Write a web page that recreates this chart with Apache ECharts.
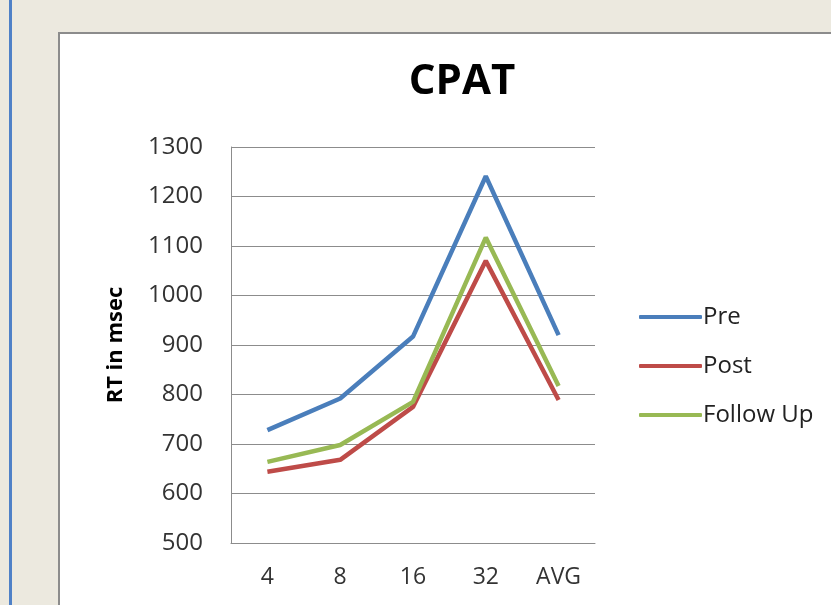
<!DOCTYPE html>
<html>
<head>
  <meta charset="UTF-8">
  <style>
    html, body { margin: 0; padding: 0; background: #ecE9df; }
    #stripe { position: absolute; left: 9px; top: 0; width: 3px; height: 605px; background: #4f81c7; }
    #frame { position: absolute; left: 58px; top: 32px; width: 820px; height: 620px; background: #fff; border: 2px solid #8c8c8c; }
    #main { position: absolute; left: 0; top: 0; width: 831px; height: 605px; }
  </style>
</head>
<body>
<div id="stripe"></div>
<div id="frame"></div>
<div id="main"></div>
<script type="text/javascript" src="https://cdn.jsdelivr.net/npm/echarts@6/dist/echarts.min.js"></script>
<script type="text/javascript">
  // values
  var categories = ['4', '8', '16', '32', 'AVG'];
  var pre = [728, 792, 917, 1241, 920];
  var post = [644, 668, 775, 1070, 789];
  var followUp = [664, 698, 785, 1117, 817];
  var seriesNames = ['Pre', 'Post', 'Follow Up'];
  var colors = ['#4a7ebb', '#be4b48', '#98b954'];

  var font = '"Open Sans", "Noto Sans", sans-serif';
  var myChart = echarts.init(document.getElementById('main'), null, {renderer: 'canvas'});

  function lineSeries(name, data, color) {
    return {
      name: name,
      type: 'line',
      data: data,
      symbol: 'none',
      color: color,
      lineStyle: {width: 4.5, color: color},
      animation: false
    };
  }

  var option = {
    backgroundColor: 'transparent',
    title: {
      text: 'CPAT',
      left: 457,
      top: 56,
      textAlign: 'center',
      textStyle: {fontFamily: font, fontWeight: 'bold', fontSize: 42, color: '#000'}
    },
    legend: {
      orient: 'vertical',
      left: 634,
      top: 298,
      icon: 'roundRect',
      itemWidth: 63,
      itemHeight: 4,
      itemGap: 21,
      data: seriesNames,
      textStyle: {fontFamily: font, fontSize: 24, color: '#222', padding: [0, 0, 0, -4], lineHeight: 28}
    },
    grid: {left: 231, top: 147, right: 236, bottom: 62},
    xAxis: {
      type: 'category',
      data: categories,
      boundaryGap: true,
      axisLine: {lineStyle: {color: '#8c8c8c', width: 1}},
      axisTick: {show: false},
      axisLabel: {fontFamily: font, fontSize: 23, color: '#333', margin: 23}
    },
    yAxis: {
      type: 'value',
      min: 500,
      max: 1300,
      interval: 100,
      name: 'RT in msec',
      nameLocation: 'middle',
      nameGap: 104,
      nameRotate: 90,
      nameTextStyle: {fontFamily: font, fontWeight: 'bold', fontSize: 22, color: '#000'},
      axisLine: {show: true, lineStyle: {color: '#8c8c8c', width: 1}},
      axisTick: {show: false},
      splitLine: {lineStyle: {color: '#8c8c8c', width: 1}},
      axisLabel: {
        fontFamily: font, fontSize: 24, color: '#333', margin: 28,
        formatter: function (v) { return String(v); }
      }
    },
    series: [
      lineSeries(seriesNames[0], pre, colors[0]),
      lineSeries(seriesNames[1], post, colors[1]),
      lineSeries(seriesNames[2], followUp, colors[2])
    ]
  };
  myChart.setOption(option);
</script>
</body>
</html>
